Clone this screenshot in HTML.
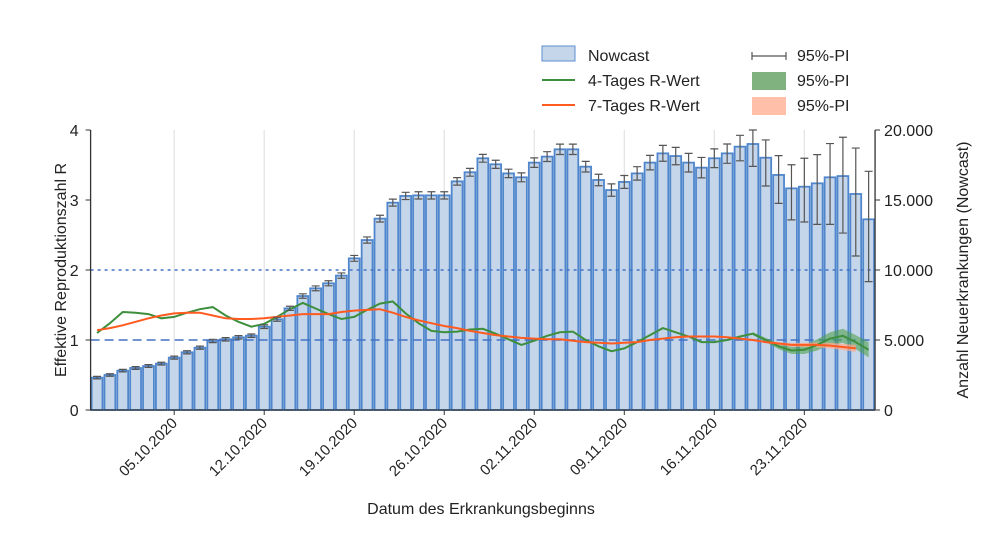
<!DOCTYPE html>
<html><head><meta charset="utf-8"><style>
body{margin:0;background:#fff;}
svg text{font-family:"Liberation Sans",sans-serif;fill:#222;}
</style></head><body>
<svg id="chart" width="1000" height="530" viewBox="0 0 1000 530" xmlns="http://www.w3.org/2000/svg">
<g id="grid"></g>
<g id="bars"></g>
<g id="refs"></g>
<g id="lines"></g>
<g id="errs"></g>
<g id="axes"></g>
<g id="legend">
 <rect x="542" y="46" width="33" height="15" fill="#c5d6ea" stroke="#5b8fd0" stroke-width="1"/>
 <text x="588" y="61" font-size="16">Nowcast</text>
 <line x1="542" y1="80" x2="575" y2="80" stroke="#3d8f3d" stroke-width="2"/>
 <text x="588" y="86" font-size="16">4-Tages R-Wert</text>
 <line x1="542" y1="105" x2="575" y2="105" stroke="#ff5a1f" stroke-width="2"/>
 <text x="588" y="111" font-size="16">7-Tages R-Wert</text>
 <g stroke="#555" stroke-width="1.2"><line x1="752" y1="56" x2="786" y2="56"/><line x1="752" y1="52" x2="752" y2="60"/><line x1="786" y1="52" x2="786" y2="60"/></g>
 <text x="797" y="61" font-size="16">95%-PI</text>
 <rect x="752" y="72" width="34" height="18" fill="#7fb27f"/>
 <text x="797" y="86" font-size="16">95%-PI</text>
 <rect x="752" y="97" width="34" height="18" fill="#ffbfa8"/>
 <text x="797" y="111" font-size="16">95%-PI</text>
</g>
<text transform="translate(66,270) rotate(-90)" text-anchor="middle" font-size="16">Effektive Reproduktionszahl R</text>
<text transform="translate(968,270) rotate(-90)" text-anchor="middle" font-size="16">Anzahl Neuerkrankungen (Nowcast)</text>
<text x="481" y="514" text-anchor="middle" font-size="16">Datum des Erkrankungsbeginns</text>
</svg>
<script>
const nowcast=[2310,2500,2810,3000,3140,3310,3740,4120,4450,4930,5050,5190,5310,5950,6480,7260,8140,8690,9050,9600,10830,12140,13670,14810,15290,15330,15330,15330,16330,16980,17980,17550,16900,16620,17670,18100,18620,18620,17380,16430,15710,16290,16900,17670,18330,18140,17670,17310,17980,18330,18810,19000,18020,16790,15830,15950,16190,16620,16710,15430,13620];
const errLo=[2220,2410,2720,2900,3040,3210,3630,4010,4340,4810,4930,5070,5190,5820,6340,7110,7980,8520,8870,9410,10620,11920,13430,14560,15030,15070,15070,15070,16060,16700,17700,17260,16600,16300,17330,17750,18250,18250,17000,16020,15270,15830,16420,17150,17770,17520,17000,16580,17310,17620,17800,17400,16000,14760,13580,13430,13260,13260,12640,11000,9170];
const errHi=[2400,2590,2900,3100,3240,3410,3850,4230,4560,5050,5170,5310,5430,6080,6620,7410,8300,8860,9230,9790,11040,12360,13910,15060,15550,15590,15590,15590,16600,17260,18260,17840,17200,16940,18010,18450,18990,18990,17760,16840,16150,16750,17380,18190,18900,18760,18330,18040,18650,19000,19620,20000,19290,18170,17520,17980,18240,19030,19480,18710,17050];
const r4=[1.10,1.24,1.40,1.39,1.37,1.31,1.33,1.39,1.44,1.47,1.35,1.26,1.19,1.23,1.33,1.44,1.53,1.45,1.37,1.30,1.33,1.43,1.52,1.55,1.38,1.24,1.13,1.11,1.12,1.15,1.16,1.09,1.01,0.93,0.99,1.06,1.11,1.12,1.00,0.91,0.84,0.88,0.97,1.07,1.17,1.11,1.05,0.97,0.97,1.00,1.05,1.09,1.00,0.91,0.85,0.86,0.93,1.02,1.06,0.97,0.86];
const r4Band=[0,0,0,0,0,0,0,0,0,0,0,0,0,0,0,0,0,0,0,0,0,0,0,0,0,0,0,0,0,0,0,0,0,0,0,0,0,0,0,0,0,0,0,0,0,0,0,0,0,0,0,0.02,0.03,0.04,0.05,0.06,0.08,0.09,0.1,0.1,0.11];
const r7=[1.14,1.17,1.21,1.26,1.31,1.35,1.38,1.39,1.39,1.35,1.31,1.30,1.30,1.31,1.33,1.35,1.37,1.37,1.37,1.40,1.42,1.43,1.44,1.39,1.33,1.28,1.24,1.20,1.17,1.13,1.10,1.07,1.05,1.03,1.02,1.01,1.01,0.99,0.97,0.96,0.95,0.96,0.97,1.00,1.02,1.04,1.05,1.05,1.05,1.04,1.02,1.00,0.97,0.95,0.93,0.93,0.93,0.92,0.90,0.88,null];
const r7Band=[0,0,0,0,0,0,0,0,0,0,0,0,0,0,0,0,0,0,0,0,0,0,0,0,0,0,0,0,0,0,0,0,0,0,0,0,0,0,0,0,0,0,0,0,0,0,0,0,0,0,0,0.01,0.015,0.02,0.025,0.03,0.035,0.04,0.045,0.05,0];
const dateLabels=["05.10.2020","12.10.2020","19.10.2020","26.10.2020","02.11.2020","09.11.2020","16.11.2020","23.11.2020"];
const dateIdx=[6,13,20,27,34,41,48,55];
const leftTicks=[0,1,2,3,4];
const rightTicks=["0","5.000","10.000","15.000","20.000"];
const rightVals=[0,5000,10000,15000,20000];

const NS="http://www.w3.org/2000/svg";
const X0=90.6,STEP=12.86,Y0=410,H=280;
const xc=i=>X0+STEP*(i+0.5);
const yR=v=>Y0-v/4*H;
const yN=v=>Y0-v/20000*H;
function mk(tag,attrs,parent){const e=document.createElementNS(NS,tag);for(const k in attrs)e.setAttribute(k,attrs[k]);parent.appendChild(e);return e;}
const g=id=>document.getElementById(id);
const XR=X0+STEP*nowcast.length;

dateIdx.forEach((d,i)=>{
  const l=mk('line',{x1:xc(d),x2:xc(d),y1:130,y2:410,stroke:'#e2e2e2','stroke-width':1.2},g('grid'));
  
  
});
nowcast.forEach((v,i)=>{
  const r=mk('rect',{x:X0+STEP*i+1,y:yN(v),width:STEP-2,height:Y0-yN(v),fill:'#c5d6ea',stroke:'#4f86cc','stroke-width':1.8},g('bars'));
  
  
});
let l1=mk('line',{x1:X0,x2:XR,y1:yR(1),y2:yR(1),stroke:'#4472c4','stroke-width':1.6,'stroke-dasharray':'9,5'},g('refs'));


let l2=mk('line',{x1:X0,x2:XR,y1:yR(2),y2:yR(2),stroke:'#4472c4','stroke-width':1.6,'stroke-dasharray':'3,4'},g('refs'));



function band(arr,b,fill,name){
  const idx=[];arr.forEach((v,i)=>{if(v!=null&&b[i]>0)idx.push(i);});
  if(!idx.length)return;
  let d='M'+idx.map(i=>xc(i)+','+yR(arr[i]+b[i])).join('L')+'L'+idx.slice().reverse().map(i=>xc(i)+','+yR(arr[i]-b[i])).join('L')+'Z';
  const p=mk('path',{d:d,fill:fill},g('lines'));
  
  
}
function line(arr,color,name){
  const pts=[];arr.forEach((v,i)=>{if(v!=null)pts.push(xc(i)+','+yR(v));});
  const p=mk('polyline',{points:pts.join(' '),fill:'none',stroke:color,'stroke-width':2},g('lines'));
  
  
}
band(r4,r4Band,'rgba(80,160,80,0.6)','band-4day');
band(r7,r7Band,'rgba(255,170,140,0.7)','band-7day');
line(r4,'#3d8f3d','line-4day-r');
line(r7,'#ff5a1f','line-7day-r');

nowcast.forEach((v,i)=>{
  const x=xc(i),a=yN(errHi[i]),b=yN(errLo[i]);
  const e=mk('path',{d:`M${x},${a}V${b}M${x-4},${a}H${x+4}M${x-4},${b}H${x+4}`,stroke:'#555','stroke-width':1.2,fill:'none'},g('errs'));
  
  
});

const ax=g('axes');
mk('path',{d:`M${X0},130V410H${XR}M${XR},130V410`,stroke:'#333','stroke-width':1.3,fill:'none'},ax);
leftTicks.forEach(v=>{
  mk('line',{x1:X0-5,x2:X0,y1:yR(v),y2:yR(v),stroke:'#333'},ax);
  const t=mk('text',{x:X0-12,y:yR(v)+6,'text-anchor':'end','font-size':16},ax);t.textContent=v;
  
  
});
rightVals.forEach((v,i)=>{
  mk('line',{x1:XR,x2:XR+5,y1:yN(v),y2:yN(v),stroke:'#333'},ax);
  const t=mk('text',{x:XR+9,y:yN(v)+6,'font-size':16},ax);t.textContent=rightTicks[i];
  
  
});
dateIdx.forEach((d,i)=>{
  const x=xc(d);
  mk('line',{x1:x,x2:x,y1:410,y2:415,stroke:'#333'},ax);
  const t=mk('text',{transform:`translate(${x+4},${424}) rotate(-45)`,'text-anchor':'end','font-size':15},ax);t.textContent=dateLabels[i];
  
  
});
</script>
</body></html>
